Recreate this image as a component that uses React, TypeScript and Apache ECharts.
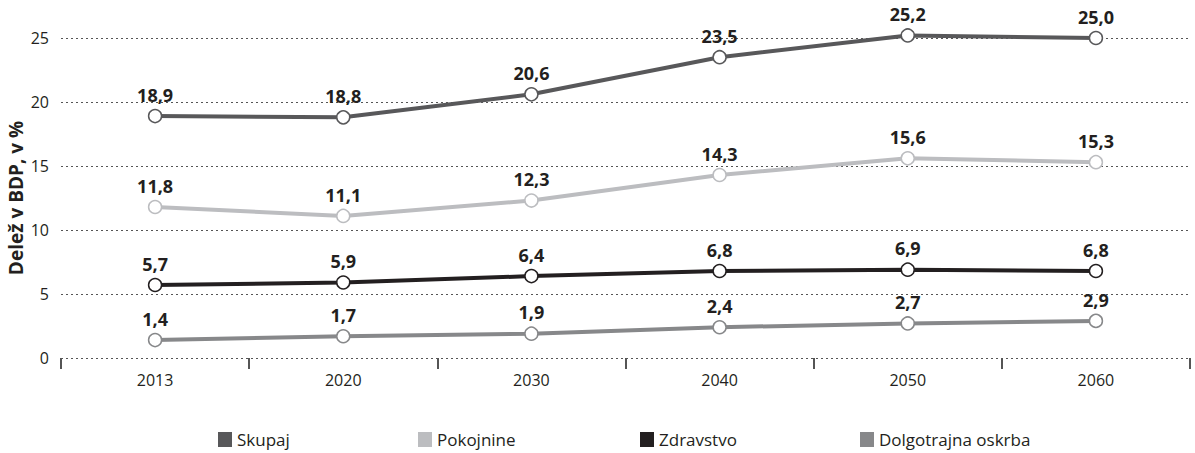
import React, { useEffect, useRef } from "react";
import * as echarts from "echarts";

const years = ["2013", "2020", "2030", "2040", "2050", "2060"];
const skupaj = [18.9, 18.8, 20.6, 23.5, 25.2, 25.0];
const pokojnine = [11.8, 11.1, 12.3, 14.3, 15.6, 15.3];
const zdravstvo = [5.7, 5.9, 6.4, 6.8, 6.9, 6.8];
const dolgotrajna = [1.4, 1.7, 1.9, 2.4, 2.7, 2.9];

const seriesNames = ["Skupaj", "Pokojnine", "Zdravstvo", "Dolgotrajna oskrba"];
const seriesColors = ["#58585a", "#bcbdc0", "#231f20", "#87888a"];
const seriesData = [skupaj, pokojnine, zdravstvo, dolgotrajna];
const legendLefts = [218, 418, 640, 860];

const FONT = "'Open Sans', sans-serif";

export default function App() {
  const ref = useRef<HTMLDivElement>(null);
  useEffect(() => {
    if (!ref.current) return;
    const chart = echarts.init(ref.current, undefined, { renderer: "svg" });
    chart.setOption({
      animation: false,
      grid: { left: 61, right: 5, top: 38, bottom: 95, outerBoundsMode: "none", containLabel: false },
      legend: seriesNames.map((n, i) => ({
        data: [{ name: n, itemStyle: { color: seriesColors[i], borderWidth: 0 } }],
        left: legendLefts[i],
        top: 431,
        padding: 0,
        icon: "rect",
        itemWidth: 14,
        itemHeight: 15,
        itemGap: 8,
        textStyle: { fontFamily: FONT, fontSize: 17, color: "#231f20" },
        selectedMode: false,
      })),
      xAxis: {
        type: "category",
        data: years,
        boundaryGap: true,
        axisLine: { show: false },
        axisTick: { show: true, length: 11, lineStyle: { color: "#555", width: 2 } },
        axisLabel: { fontFamily: FONT, fontSize: 16, color: "#231f20", margin: 14 },
      },
      yAxis: {
        type: "value",
        min: 0,
        max: 25,
        interval: 5,
        name: "Delež v BDP, v %",
        nameLocation: "middle",
        nameGap: 36,
        nameMoveOverlap: false,
        nameTextStyle: { fontFamily: FONT, fontSize: 19, fontWeight: "bold", color: "#231f20" },
        axisLine: { show: false },
        axisTick: { show: false },
        axisLabel: { fontFamily: FONT, fontSize: 16, color: "#231f20", margin: 12, padding: [0, 0, 10, 0] },
        splitLine: { show: true, lineStyle: { type: [2, 3], color: "#555", width: 1 } },
      },
      series: seriesNames.map((n, i) => ({
        name: n,
        type: "line",
        data: seriesData[i],
        color: seriesColors[i],
        clip: false,
        lineStyle: { width: 4, color: seriesColors[i] },
        symbol: "circle",
        symbolSize: 13,
        itemStyle: { color: "#fff", borderColor: seriesColors[i], borderWidth: 1.5 },
        label: {
          show: true,
          position: "top",
          distance: 5,
          fontFamily: FONT,
          fontSize: 18,
          fontWeight: "bold",
          color: "#231f20",
          formatter: (p: any) => Number(p.value).toFixed(1).replace(".", ","),
        },
        z: 2 + i,
      })),
    });
    return () => chart.dispose();
  }, []);
  return <div ref={ref} style={{ width: 1195, height: 453, position: "absolute", left: 0, top: 0 }} />;
}
